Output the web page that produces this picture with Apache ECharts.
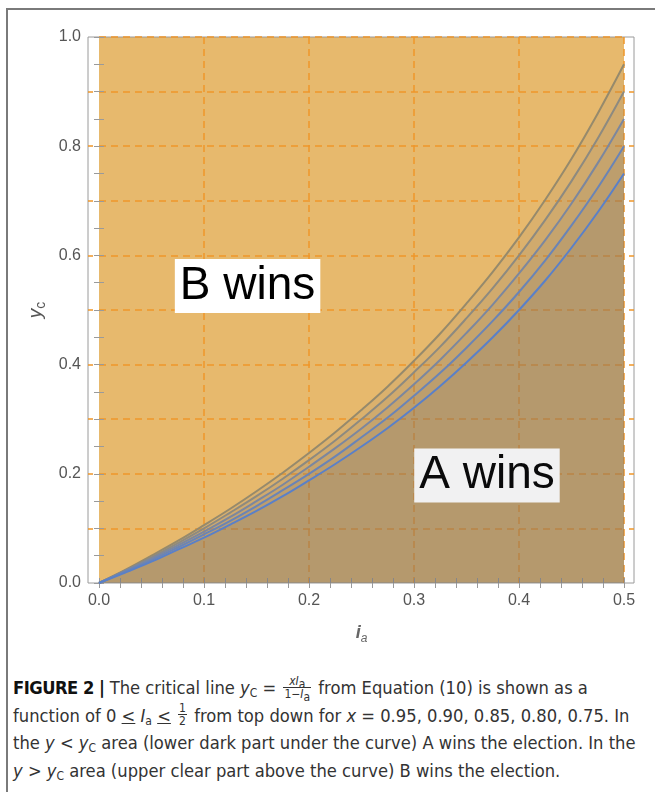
<!DOCTYPE html>
<html>
<head>
<meta charset="utf-8">
<script src="https://cdn.jsdelivr.net/npm/echarts@6/dist/echarts.min.js"></script>
<style>
  html, body { margin: 0; padding: 0; background: #fff; }
  #wrap { position: relative; width: 655px; height: 792px; overflow: hidden; }
  #frame { position: absolute; left: 6px; top: 8px; width: 700px; height: 800px;
           border-left: 2px solid #7a7a7a; border-top: 2px solid #7a7a7a; }
  #chart { position: absolute; left: 0; top: 0; width: 655px; height: 660px; }
  #caption { position: absolute; left: 13px; top: 674px; width: 640px;
             font-family: "DejaVu Sans Condensed", "Liberation Sans", sans-serif;
             font-size: 18.2px; line-height: 27.7px; color: #333; white-space: nowrap; }
  #caption b { color: #111; letter-spacing: -0.5px; }
  .frac { display: inline-block; vertical-align: middle; text-align: center; font-size: 12px; line-height: 12px; margin: 0 2px; position: relative; top: -2px; }
  .frac .num { display: block; border-bottom: 1px solid #333; padding: 0 1px; }
  .frac .den { display: block; padding: 0 1px; }
  sub { font-size: 12px; vertical-align: -3px; line-height: 0; }
  .le { text-decoration: underline; }
</style>
</head>
<body>
<div id="wrap">
  <div id="frame"></div>
  <div id="chart"></div>
  <div id="caption">
    <b>FIGURE 2 |</b> The critical line <i>y</i><sub>C</sub> = <span class="frac"><span class="num"><i>xI</i><sub>a</sub></span><span class="den">1−<i>I</i><sub>a</sub></span></span> from Equation (10) is shown as a<br>
    function of 0 <span class="le">&lt;</span> <i>I</i><sub>a</sub> <span class="le">&lt;</span> <span class="frac"><span class="num">1</span><span class="den">2</span></span> from top down for <i>x</i> = 0.95, 0.90, 0.85, 0.80, 0.75. In<br>
    the <i>y</i> &lt; <i>y</i><sub>C</sub> area (lower dark part under the curve) A wins the election. In the<br>
    <i>y</i> &gt; <i>y</i><sub>C</sub> area (upper clear part above the curve) B wins the election.
  </div>
</div>
<script>
// ---- data ----
const iValues = [0, 0.025, 0.05, 0.075, 0.1, 0.125, 0.15, 0.175, 0.2, 0.225, 0.25,
                 0.275, 0.3, 0.325, 0.35, 0.375, 0.4, 0.425, 0.45, 0.475, 0.5];
const curveNames = ['x = 0.95', 'x = 0.90', 'x = 0.85', 'x = 0.80', 'x = 0.75'];
const yc095 = [0, 0.024, 0.050, 0.077, 0.106, 0.136, 0.168, 0.202, 0.238, 0.276, 0.317,
               0.360, 0.407, 0.457, 0.512, 0.570, 0.633, 0.702, 0.777, 0.860, 0.950];
const yc090 = [0, 0.023, 0.047, 0.073, 0.100, 0.129, 0.159, 0.191, 0.225, 0.261, 0.300,
               0.341, 0.386, 0.433, 0.485, 0.540, 0.600, 0.665, 0.736, 0.814, 0.900];
const yc085 = [0, 0.022, 0.045, 0.069, 0.094, 0.121, 0.150, 0.180, 0.213, 0.247, 0.283,
               0.322, 0.364, 0.409, 0.458, 0.510, 0.567, 0.628, 0.695, 0.769, 0.850];
const yc080 = [0, 0.021, 0.042, 0.065, 0.089, 0.114, 0.141, 0.170, 0.200, 0.232, 0.267,
               0.303, 0.343, 0.385, 0.431, 0.480, 0.533, 0.591, 0.655, 0.724, 0.800];
const yc075 = [0, 0.019, 0.039, 0.061, 0.083, 0.107, 0.132, 0.159, 0.188, 0.218, 0.250,
               0.284, 0.321, 0.361, 0.404, 0.450, 0.500, 0.554, 0.614, 0.679, 0.750];
const xTickLabels = ['0.0', '0.1', '0.2', '0.3', '0.4', '0.5'];
const yTickLabels = ['0.0', '0.2', '0.4', '0.6', '0.8', '1.0'];
const yGridTicks = [0.1, 0.2, 0.3, 0.4, 0.5, 0.6, 0.7, 0.8, 0.9];
const annotations = [
  { text: 'B wins', at: [0.1415, 0.544] },
  { text: 'A wins', at: [0.3695, 0.197] }
];

// ---- styles ----
const curveSeries = [yc095, yc090, yc085, yc080, yc075];
const lineColors = ['#968a6c', '#8d8a80', '#7c879e', '#6a84b6', '#5a80c8'];
const bgOrange = '#e7b96d';
const gridOrange = '#f0962a';
const axisGray = '#9a9a9a';
const labelGray = '#555';
const FONT = '"Liberation Sans", Arial, Helvetica, sans-serif';

const chart = echarts.init(document.getElementById('chart'), null, { renderer: 'canvas' });

const series = curveSeries.map((arr, k) => ({
  name: curveNames[k],
  type: 'line',
  xAxisIndex: 0, yAxisIndex: 0,
  data: iValues.map((v, j) => [v, arr[j]]),
  smooth: 0.4,
  showSymbol: false,
  symbol: 'none',
  lineStyle: { color: lineColors[k], width: 2 },
  areaStyle: { color: 'rgba(104,104,112,0.135)', origin: 'start' },
  z: 2 + k,
  silent: true,
  animation: false
}));

// annotation labels
series.push({
  type: 'scatter', xAxisIndex: 0, yAxisIndex: 0, data: [], silent: true, animation: false,
  z: 20,
  markPoint: {
    symbol: 'rect', symbolSize: 0, animation: false, silent: true,
    data: annotations.map(a => ({
      coord: a.at,
      label: {
        show: true, position: 'inside', formatter: a.text,
        fontFamily: FONT, fontSize: 46, color: '#000',
        backgroundColor: '#fff', padding: [6, 5, 2, 5], lineHeight: 46
      }
    }))
  }
});

const fmtX = v => { const i = Math.round(v * 10); return (Math.abs(v * 10 - i) < 1e-6) ? xTickLabels[i] : ''; };
const fmtY = v => { const i = Math.round(v * 5); return (Math.abs(v * 5 - i) < 1e-6) ? yTickLabels[i] : ''; };

const tickCommon = { show: true, inside: true, length: 5, lineStyle: { color: axisGray, width: 1 } };
const minorCommon = (n) => ({ show: true, splitNumber: n, length: 5, lineStyle: { color: axisGray, width: 1 } });
const orangeTicks = { show: true, inside: true, length: 5, customValues: yGridTicks, lineStyle: { color: gridOrange, width: 1.5 } };

const option = {
  animation: false,
  grid: [
    { left: 99, top: 37, width: 525, height: 546, show: true, backgroundColor: bgOrange, borderWidth: 0 },
    { left: 88, top: 37, width: 546, height: 546, show: true, backgroundColor: 'transparent', borderColor: axisGray, borderWidth: 1 }
  ],
  xAxis: [
    { gridIndex: 0, type: 'value', min: 0, max: 0.5, interval: 0.1,
      axisLine: { show: false }, axisTick: { show: false }, axisLabel: { show: false },
      splitLine: { show: true, showMinLine: false, lineStyle: { color: gridOrange, type: [7, 5], width: 1.5 } } },
    { gridIndex: 0, type: 'value', position: 'bottom', min: 0, max: 0.5, interval: 0.1,
      axisLine: { show: false }, axisTick: tickCommon, minorTick: minorCommon(5),
      axisLabel: { show: true, formatter: fmtX, color: labelGray, fontSize: 16, margin: 10, fontFamily: FONT },
      splitLine: { show: false },
      name: '{i|i}{s|a}', nameLocation: 'middle', nameGap: 40,
      nameTextStyle: { rich: {
        i: { fontSize: 18, fontStyle: 'italic', fontWeight: 'bold', color: '#666', fontFamily: FONT, verticalAlign: 'bottom', lineHeight: 19 },
        s: { fontSize: 12, fontStyle: 'italic', color: '#666', fontFamily: FONT, verticalAlign: 'bottom', lineHeight: 14, padding: [0, 0, -3, 0] }
      } } },
    { gridIndex: 0, type: 'value', position: 'top', min: 0, max: 0.5, interval: 0.1,
      axisLine: { show: false }, axisTick: tickCommon, minorTick: minorCommon(5),
      axisLabel: { show: false }, splitLine: { show: false } },
    { gridIndex: 1, type: 'value', min: 0, max: 1, show: false }
  ],
  yAxis: [
    { gridIndex: 0, type: 'value', min: 0, max: 1, interval: 0.1,
      axisLine: { show: false }, axisTick: { show: false }, axisLabel: { show: false },
      splitLine: { show: true, showMinLine: false, lineStyle: { color: gridOrange, type: [7, 5], width: 1.5 } } },
    { gridIndex: 0, type: 'value', position: 'left', offset: 11, min: 0, max: 1, interval: 0.2,
      axisLine: { show: false }, axisTick: tickCommon, minorTick: minorCommon(4),
      axisLabel: { show: true, formatter: fmtY, color: labelGray, fontSize: 16, margin: 7, fontFamily: FONT },
      splitLine: { show: false },
      name: '{i|y}{s|c}', nameLocation: 'middle', nameGap: 40, nameRotate: 90,
      nameTextStyle: { rich: {
        i: { fontSize: 19, fontStyle: 'italic', color: labelGray, fontFamily: FONT, verticalAlign: 'bottom', lineHeight: 20 },
        s: { fontSize: 14, color: labelGray, fontFamily: FONT, verticalAlign: 'bottom', lineHeight: 14, padding: [0, 0, -3, 0] }
      } } },
    { gridIndex: 0, type: 'value', position: 'right', offset: 10, min: 0, max: 1, interval: 0.2,
      axisLine: { show: false }, axisTick: tickCommon, minorTick: minorCommon(4),
      axisLabel: { show: false }, splitLine: { show: false } },
    { gridIndex: 1, type: 'value', min: 0, max: 1, show: false },
    { gridIndex: 0, type: 'value', position: 'left', offset: 11, min: 0, max: 1,
      axisLine: { show: false }, axisTick: orangeTicks, axisLabel: { show: false }, splitLine: { show: false } },
    { gridIndex: 0, type: 'value', position: 'right', offset: 10, min: 0, max: 1,
      axisLine: { show: false }, axisTick: orangeTicks, axisLabel: { show: false }, splitLine: { show: false } }
  ],
  series: series
};

chart.setOption(option);
</script>
</body>
</html>
